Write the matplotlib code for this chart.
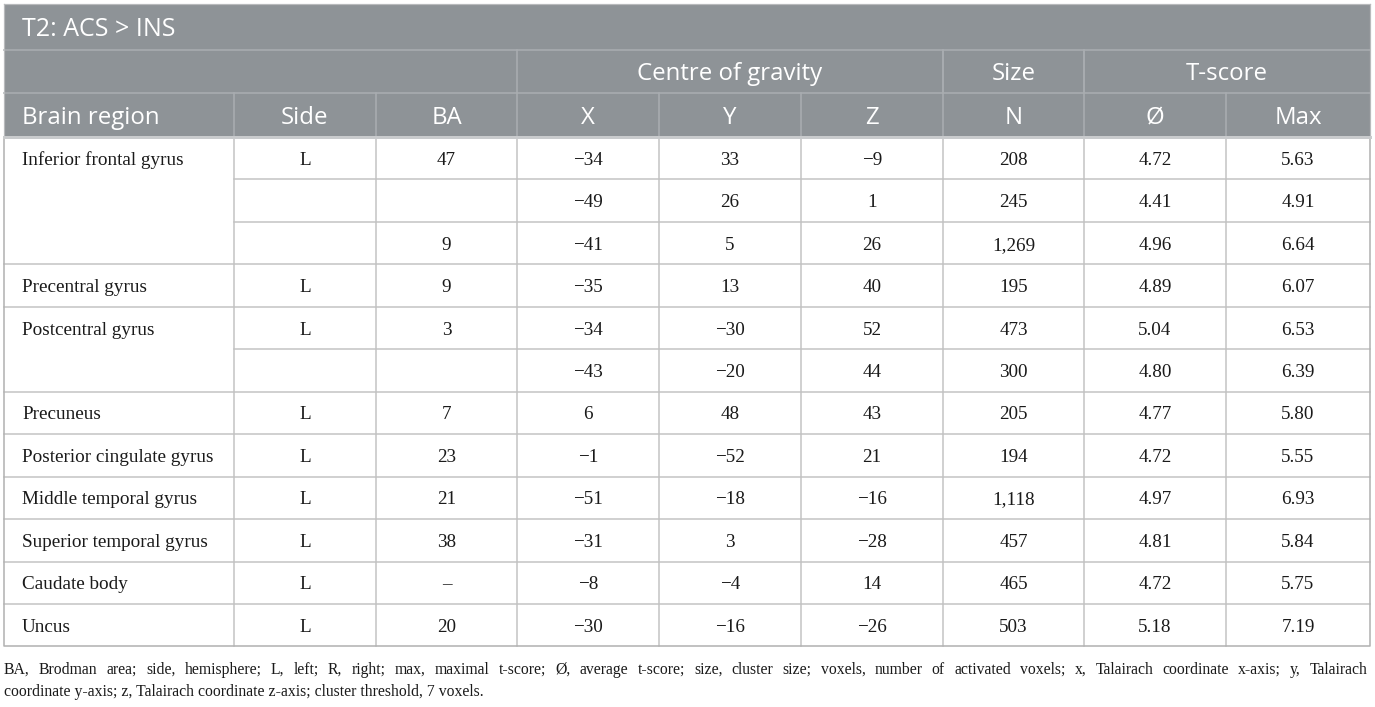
import matplotlib
matplotlib.use("Agg")
import matplotlib.pyplot as plt
from matplotlib.patches import Rectangle

# ---------------- data ----------------
title = "T2: ACS > INS"
group_headers = ["Centre of gravity", "Size", "T-score"]
col_headers = ["Brain region", "Side", "BA", "X", "Y", "Z", "N", "Ø", "Max"]

regions = ["Inferior frontal gyrus", "", "", "Precentral gyrus", "Postcentral gyrus", "",
           "Precuneus", "Posterior cingulate gyrus", "Middle temporal gyrus",
           "Superior temporal gyrus", "Caudate body", "Uncus"]
side = ["L", "", "", "L", "L", "", "L", "L", "L", "L", "L", "L"]
ba = ["47", "", "9", "9", "3", "", "7", "23", "21", "38", "–", "20"]
cog_x = [-34, -49, -41, -35, -34, -43, 6, -1, -51, -31, -8, -30]
cog_y = [33, 26, 5, 13, -30, -20, 48, -52, -18, 3, -4, -16]
cog_z = [-9, 1, 26, 40, 52, 44, 43, 21, -16, -28, 14, -26]
size_n = [208, 245, 1269, 195, 473, 300, 205, 194, 1118, 457, 465, 503]
t_avg = [4.72, 4.41, 4.96, 4.89, 5.04, 4.80, 4.77, 4.72, 4.97, 4.81, 4.72, 5.18]
t_max = [5.63, 4.91, 6.64, 6.07, 6.53, 6.39, 5.80, 5.55, 6.93, 5.84, 5.75, 7.19]

footnote = ["BA, Brodman area; side, hemisphere; L, left; R, right; max, maximal t-score; Ø, average t-score; "
            "size, cluster size; voxels, number of activated voxels; x, Talairach coordinate x-axis; y, Talairach",
            "coordinate y-axis; z, Talairach coordinate z-axis; cluster threshold, 7 voxels."]

# ---------------- layout ----------------
W, H = 1375, 707
col_edges = [4, 234, 376, 517, 659, 801, 943, 1084, 1226, 1370]
group_spans = [(3, 6), (6, 7), (7, 9)]
y_title = (4, 50)
y_h1 = (50, 93)
y_h2 = (93, 137)
row_top = 137
row_h = 42.45
n_rows = len(regions)
px = 0.72  # points per pixel at dpi 100

hdr_bg = "#8e9397"
hdr_line = "#a9adb0"
hdr_bottom = "#c9cbcd"
grid = "#c2c2c2"
txt = "#1a1a1a"
sans = ["Open Sans", "DejaVu Sans"]
serif = ["Liberation Serif", "DejaVu Serif"]
hdr_fs = 17.3
title_fs = 18.0
body_fs = 13.8
foot_fs = 11.3

fig = plt.figure(figsize=(W / 100, H / 100), dpi=100)
fig.patch.set_facecolor("white")
ax = fig.add_axes([0, 0, 1, 1])
ax.set_xlim(0, W)
ax.set_ylim(H, 0)
ax.axis("off")

def fmt_int(v):
    s = f"{abs(v):,}"
    return ("−" + s) if v < 0 else s

# header background
ax.add_patch(Rectangle((col_edges[0], y_title[0]), col_edges[-1] - col_edges[0],
                       y_h2[1] - y_title[0], facecolor=hdr_bg, edgecolor="none", zorder=1))

# header lines
ax.plot([col_edges[0], col_edges[-1]], [y_title[1]] * 2, color=hdr_line, lw=1.6 * px, zorder=2)
ax.plot([col_edges[0], col_edges[-1]], [y_h1[1]] * 2, color=hdr_line, lw=1.6 * px, zorder=2)
for a, b in group_spans:
    for e in (col_edges[a], col_edges[b]):
        if e != col_edges[-1]:
            ax.plot([e, e], [y_h1[0], y_h1[1]], color=hdr_line, lw=1.6 * px, zorder=2)
for e in col_edges[1:-1]:
    ax.plot([e, e], [y_h2[0], y_h2[1]], color=hdr_line, lw=1.6 * px, zorder=2)

# header text
ax.text(22, sum(y_title) / 2, title, color="white", fontsize=title_fs, family=sans,
        ha="left", va="center_baseline", zorder=3)
for (a, b), lab in zip(group_spans, group_headers):
    ax.text((col_edges[a] + col_edges[b]) / 2, sum(y_h1) / 2, lab, color="white",
            fontsize=hdr_fs, family=sans, ha="center", va="center_baseline", zorder=3)
for i, lab in enumerate(col_headers):
    if i == 0:
        ax.text(22, sum(y_h2) / 2, lab, color="white", fontsize=hdr_fs, family=sans,
                ha="left", va="center_baseline", zorder=3)
    else:
        ax.text((col_edges[i] + col_edges[i + 1]) / 2, sum(y_h2) / 2, lab, color="white",
                fontsize=hdr_fs, family=sans, ha="center", va="center_baseline", zorder=3)

# data rows
columns = [regions, side, ba,
           [fmt_int(v) for v in cog_x], [fmt_int(v) for v in cog_y], [fmt_int(v) for v in cog_z],
           [fmt_int(v) for v in size_n], [f"{v:.2f}" for v in t_avg], [f"{v:.2f}" for v in t_max]]
table_bottom = row_top + n_rows * row_h
for r in range(n_rows):
    yc = row_top + (r + 0.5) * row_h
    for c, colvals in enumerate(columns):
        s = colvals[r]
        if not s:
            continue
        if c == 0:
            ax.text(22, yc, s, color=txt, fontsize=body_fs, family=serif, ha="left",
                    va="center_baseline", zorder=3)
        else:
            ax.text((col_edges[c] + col_edges[c + 1]) / 2, yc, s, color=txt, fontsize=body_fs,
                    family=serif, ha="center", va="center_baseline", zorder=3)
    # separator below row
    if r < n_rows - 1:
        yb = row_top + (r + 1) * row_h
        x0 = col_edges[1] if regions[r + 1] == "" else col_edges[0]
        ax.plot([x0, col_edges[-1]], [yb, yb], color=grid, lw=1.5 * px, zorder=2)

# vertical grid lines in body
for e in col_edges[1:-1]:
    ax.plot([e, e], [row_top, table_bottom], color=grid, lw=1.5 * px, zorder=2)

# outer border of body
ax.plot([col_edges[0], col_edges[0], col_edges[-1], col_edges[-1]],
        [row_top, table_bottom, table_bottom, row_top], color="#b3b3b3", lw=1.6 * px, zorder=2)
ax.plot([col_edges[0], col_edges[-1]], [y_title[0]] * 2, color="#b8babc", lw=1.2 * px, zorder=2)
ax.plot([col_edges[0]] * 2, [y_title[0], row_top], color="#b8babc", lw=1.2 * px, zorder=2)
ax.plot([col_edges[-1]] * 2, [y_title[0], row_top], color="#b8babc", lw=1.2 * px, zorder=2)

# header bottom band
ax.plot([col_edges[0], col_edges[-1]], [y_h2[1]] * 2, color=hdr_bottom, lw=3 * px, zorder=2)

# footnote (first line justified to the table width)
renderer = fig.canvas.get_renderer()
foot_left, foot_right = col_edges[0], 1368
for i, line in enumerate(footnote):
    yl = 668 + i * 22.5
    if i == len(footnote) - 1:
        ax.text(foot_left, yl, line, color=txt, fontsize=foot_fs, family=serif,
                ha="left", va="center_baseline", zorder=3)
        continue
    words = line.split(" ")
    arts = [ax.text(0, yl, w, color=txt, fontsize=foot_fs, family=serif,
                    ha="left", va="center_baseline", zorder=3) for w in words]
    widths = [a.get_window_extent(renderer).width for a in arts]
    gap = (foot_right - foot_left - sum(widths)) / (len(words) - 1)
    xcur = foot_left
    for a, w in zip(arts, widths):
        a.set_x(xcur)
        xcur += w + gap

fig.savefig("out.png", dpi=100, facecolor="white")
